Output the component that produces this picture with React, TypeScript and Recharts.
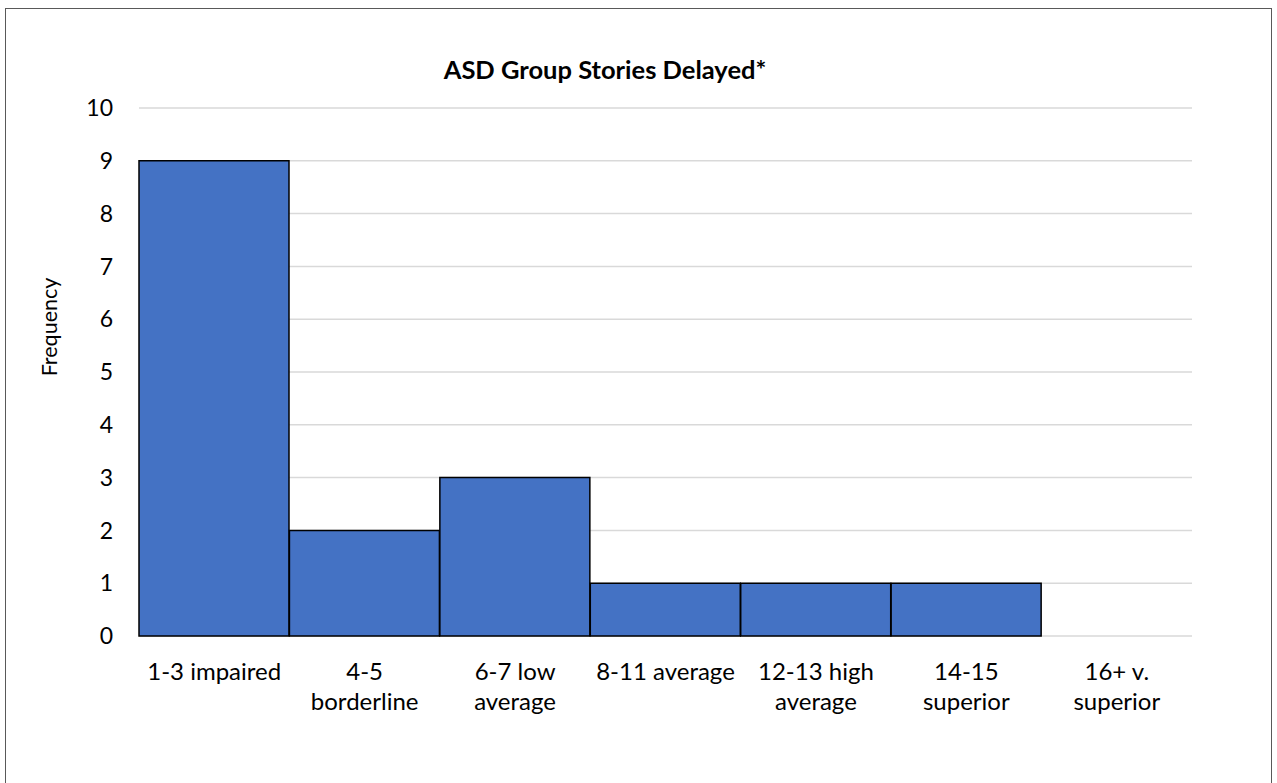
import { BarChart, Bar, XAxis, YAxis, CartesianGrid, Label } from 'recharts';

const categories = [
  '1-3 impaired',
  '4-5 borderline',
  '6-7 low average',
  '8-11 average',
  '12-13 high average',
  '14-15 superior',
  '16+  v. superior',
];
const frequencies = [9, 2, 3, 1, 1, 1, 0];
const yTicks = [0, 1, 2, 3, 4, 5, 6, 7, 8, 9, 10];

const chartData = categories.map((category, i) => ({
  category,
  frequency: frequencies[i],
}));

const FONT = 'Lato, "Open Sans", sans-serif';

// greedy wrap, roughly what the original did with the narrow category slots
const wrapLabel = (text: string, maxChars = 12) => {
  const words = text.split(/\s+/);
  const lines: string[] = [];
  let current = '';
  words.forEach((word) => {
    const next = current ? `${current} ${word}` : word;
    if (next.length > maxChars && current) {
      lines.push(current);
      current = word;
    } else {
      current = next;
    }
  });
  if (current) lines.push(current);
  return lines;
};

const CategoryTick = ({ x, y, payload }: any) => {
  const lines = wrapLabel(payload.value);
  return (
    <text
      x={x}
      y={y}
      textAnchor="middle"
      fontFamily={FONT}
      fontSize={24}
      fill="#000"
    >
      {lines.map((line, i) => (
        <tspan key={i} x={x} dy={i === 0 ? 36 : 30}>
          {line}
        </tspan>
      ))}
    </text>
  );
};

const App = () => {
  return (
    <div
      style={{
        position: 'absolute',
        left: 0,
        top: 0,
        width: 1277,
        height: 783,
        overflow: 'hidden',
        background: '#fff',
      }}
    >
      <div
        style={{
          position: 'absolute',
          left: 5,
          top: 8,
          width: 1267,
          height: 800,
          border: '1.5px solid #595959',
          boxSizing: 'border-box',
        }}
      />
      <div
        style={{
          position: 'absolute',
          left: 0,
          top: 54,
          width: 1210,
          textAlign: 'center',
          fontFamily: FONT,
          fontWeight: 'bold',
          fontSize: 25.5,
          lineHeight: '30px',
          color: '#000',
        }}
      >
        ASD Group Stories Delayed*
      </div>
      <div style={{ position: 'absolute', left: 0, top: 0 }}>
        <BarChart
          width={1277}
          height={783}
          data={chartData}
          barCategoryGap={0}
          margin={{ top: 108, right: 85, left: 59, bottom: 0 }}
        >
          <CartesianGrid
            vertical={false}
            stroke="#D9D9D9"
            strokeWidth={1.5}
          />
          <XAxis
            dataKey="category"
            axisLine={false}
            tickLine={false}
            interval={0}
            height={147}
            tick={<CategoryTick />}
          />
          <YAxis
            width={80}
            domain={[0, 10]}
            ticks={yTicks}
            interval={0}
            axisLine={false}
            tickLine={false}
            tickSize={0}
            tickMargin={26}
            tick={{ fontFamily: FONT, fontSize: 23, fill: '#000' }}
          >
            <Label
              content={({ viewBox }: any) => (
                <text
                  x={57}
                  y={viewBox.y + viewBox.height / 2 - 45}
                  transform={`rotate(-90, 57, ${viewBox.y + viewBox.height / 2 - 45})`}
                  textAnchor="middle"
                  fontFamily={FONT}
                  fontSize={21.5}
                  fill="#000"
                >
                  Frequency
                </text>
              )}
            />
          </YAxis>
          <Bar
            dataKey="frequency"
            fill="#4472C4"
            stroke="#000"
            strokeWidth={1.5}
            isAnimationActive={false}
          />
        </BarChart>
      </div>
    </div>
  );
};

export default App;
